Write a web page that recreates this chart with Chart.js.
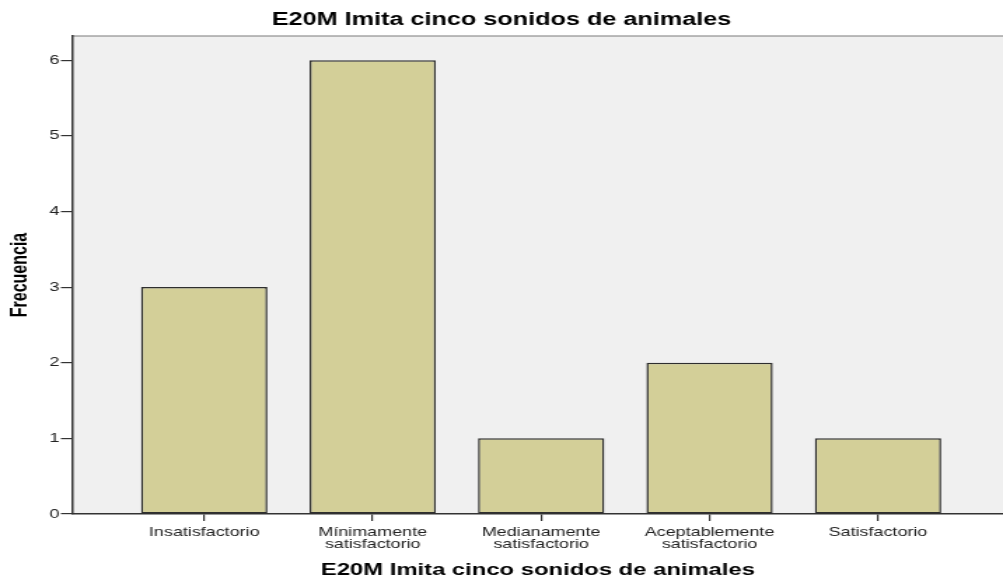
<!DOCTYPE html>
<html>
<head>
<meta charset="utf-8">
<script src="https://cdn.jsdelivr.net/npm/chart.js@4/dist/chart.umd.min.js"></script>
<style>
  html, body { margin: 0; padding: 0; background: #ffffff; }
</style>
</head>
<body>
<canvas id="c" width="716" height="582" style="display:block;width:1003px;height:582px;"></canvas>
<script>
const chartTitle = "E20M Imita cinco sonidos de animales";
const xTitle = "E20M Imita cinco sonidos de animales";
const yTitle = "Frecuencia";
const categories = [
  ["Insatisfactorio"],
  ["Mínimamente", "satisfactorio"],
  ["Medianamente", "satisfactorio"],
  ["Aceptablemente", "satisfactorio"],
  ["Satisfactorio"]
];
const frecuencias = [3, 6, 1, 2, 1];
const yTickValues = [0, 1, 2, 3, 4, 5, 6];

const FONT = "'Liberation Sans', Arial, Helvetica, sans-serif";

const plotFrame = {
  id: 'plotFrame',
  beforeDraw(chart) {
    const {ctx, chartArea: a} = chart;
    ctx.save();
    ctx.fillStyle = '#f0f0f0';
    ctx.fillRect(a.left, a.top, a.right - a.left, a.bottom - a.top);
    ctx.strokeStyle = '#7a7a7a';
    ctx.lineWidth = 1.2;
    ctx.beginPath();
    ctx.moveTo(a.left, a.top);
    ctx.lineTo(a.right, a.top);
    ctx.stroke();
    ctx.restore();
  }
};

new Chart(document.getElementById('c'), {
  type: 'bar',
  data: {
    datasets: [{
      data: frecuencias.map((v, i) => ({x: i, y: v})),
      backgroundColor: '#d3cf98',
      borderColor: '#2e2e2e',
      borderWidth: 1.5,
      borderSkipped: false,
      barPercentage: 0.75,
      categoryPercentage: 1.0
    }]
  },
  options: {
    responsive: false,
    devicePixelRatio: 1,
    animation: false,
    layout: { padding: 0 },
    plugins: {
      legend: { display: false },
      tooltip: { enabled: false },
      title: {
        display: true,
        text: chartTitle,
        color: '#000000',
        font: { family: FONT, size: 18, weight: 'bold', lineHeight: 1.2 },
        padding: { top: 9, bottom: 5.4 }
      }
    },
    scales: {
      x: {
        type: 'linear',
        min: -0.78,
        max: 4.742,
        offset: false,
        afterFit(scale) { scale.height = 68; },
        grid: {
          display: true,
          offset: false,
          drawOnChartArea: false,
          drawTicks: true,
          tickLength: 7,
          color: '#333333',
          lineWidth: 1.2
        },
        border: { display: true, color: '#333333', width: 1.5 },
        ticks: {
          stepSize: 1,
          includeBounds: false,
          autoSkip: false,
          maxRotation: 0,
          minRotation: 0,
          padding: 5,
          color: '#222222',
          font: { family: FONT, size: 12.8, lineHeight: 0.97 },
          callback: (v) => Number.isInteger(v) && categories[v] ? categories[v] : ''
        },
        title: {
          display: true,
          text: xTitle,
          color: '#000000',
          font: { family: FONT, size: 17, weight: 'bold', lineHeight: 1.2 },
          padding: { top: 0, bottom: 1 }
        }
      },
      y: {
        type: 'linear',
        min: 0,
        max: 6.32,
        afterFit(scale) { scale.width = 52; },
        afterBuildTicks(scale) { scale.ticks = yTickValues.map(v => ({value: v})); },
        grid: {
          display: true,
          drawOnChartArea: false,
          drawTicks: true,
          tickLength: 8.5,
          color: '#333333',
          lineWidth: 1.2
        },
        border: { display: true, color: '#333333', width: 1.5 },
        ticks: {
          stepSize: 1,
          includeBounds: false,
          padding: 1,
          color: '#222222',
          font: { family: FONT, size: 13 }
        },
        title: {
          display: true,
          text: yTitle,
          color: '#000000',
          font: { family: FONT, size: 16, weight: 'bold', lineHeight: 1.2 },
          padding: { top: 4.7, bottom: 0 }
        }
      }
    }
  },
  plugins: [plotFrame]
});
</script>
</body>
</html>
